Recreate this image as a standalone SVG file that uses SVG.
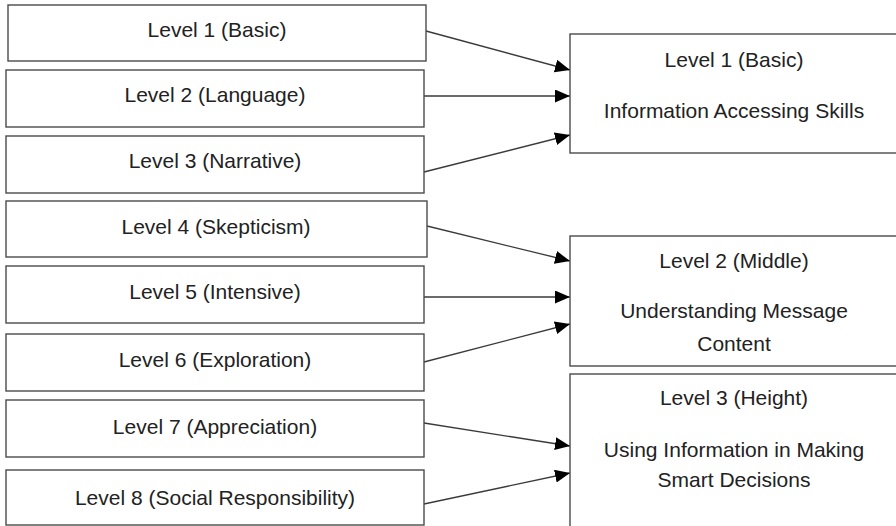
<svg xmlns="http://www.w3.org/2000/svg" width="896" height="526" viewBox="0 0 896 526">
<style>
.box{fill:#fff;stroke:#4a4a4a;stroke-width:1.4}
.t{font-family:"Liberation Sans",Arial,sans-serif;font-size:21px;fill:#222;text-anchor:middle}
.c{stroke:#3a3a3a;stroke-width:1.3;fill:none;marker-end:url(#ah)}
</style>
<defs>
<marker id="ah" markerUnits="userSpaceOnUse" markerWidth="15" markerHeight="13" viewBox="0 0 15 13" refX="15" refY="6.5" orient="auto">
<path d="M0,0 L15,6.5 L0,13 z" fill="#000"/>
</marker>
</defs>
<rect width="896" height="526" fill="#fff"/>
<g id="connectors">
<line class="c" x1="426" y1="31" x2="570" y2="70"/>
<line class="c" x1="424" y1="96" x2="570" y2="96"/>
<line class="c" x1="424" y1="172" x2="570" y2="135"/>
<line class="c" x1="427" y1="226" x2="570" y2="261"/>
<line class="c" x1="424" y1="297" x2="570" y2="297"/>
<line class="c" x1="424" y1="362" x2="570" y2="324"/>
<line class="c" x1="424" y1="423" x2="570" y2="446"/>
<line class="c" x1="424" y1="504" x2="570" y2="473"/>
</g>
<g id="l1"><rect class="box" x="8" y="5" width="418" height="56"/><text class="t" x="217" y="37">Level 1 (Basic)</text></g>
<g id="l2"><rect class="box" x="6" y="70" width="418" height="57"/><text class="t" x="215" y="102">Level 2 (Language)</text></g>
<g id="l3"><rect class="box" x="6" y="136" width="418" height="57"/><text class="t" x="215" y="168">Level 3 (Narrative)</text></g>
<g id="l4"><rect class="box" x="6" y="201" width="421" height="56"/><text class="t" x="216" y="234">Level 4 (Skepticism)</text></g>
<g id="l5"><rect class="box" x="6" y="266" width="418" height="57"/><text class="t" x="215" y="299">Level 5 (Intensive)</text></g>
<g id="l6"><rect class="box" x="6" y="334" width="418" height="57"/><text class="t" x="215" y="367">Level 6 (Exploration)</text></g>
<g id="l7"><rect class="box" x="6" y="400" width="418" height="57"/><text class="t" x="215" y="434">Level 7 (Appreciation)</text></g>
<g id="l8"><rect class="box" x="6" y="470" width="418" height="55"/><text class="t" x="215" y="505">Level 8 (Social Responsibility)</text></g>
<g id="r1"><rect class="box" x="570" y="34" width="330" height="119"/><text class="t" x="734" y="67">Level 1 (Basic)</text><text class="t" x="734" y="118">Information Accessing Skills</text></g>
<g id="r2"><rect class="box" x="570" y="236" width="330" height="130"/><text class="t" x="734" y="268">Level 2 (Middle)</text><text class="t" x="734" y="318">Understanding Message</text><text class="t" x="734" y="351">Content</text></g>
<g id="r3"><rect class="box" x="570" y="374" width="330" height="160"/><text class="t" x="734" y="405">Level 3 (Height)</text><text class="t" x="734" y="457">Using Information in Making</text><text class="t" x="734" y="487">Smart Decisions</text></g>
</svg>
